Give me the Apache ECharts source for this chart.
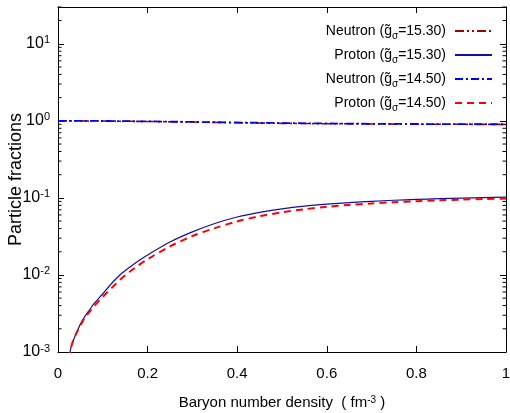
<!DOCTYPE html>
<html>
<head>
<meta charset="utf-8">
<script src="https://cdn.jsdelivr.net/npm/echarts@6/dist/echarts.min.js"></script>
<style>
html,body{margin:0;padding:0;background:#fff;}
#chart{width:510px;height:413px;}
</style>
</head>
<body>
<div id="chart"></div>
<script>
// ---- data ----
var densityN = [0.0, 0.1, 0.2, 0.3, 0.4, 0.5, 0.6, 0.7, 0.8, 0.9, 1.0];
var neutron1530 = [1.0, 0.994, 0.981, 0.964, 0.943, 0.928, 0.917, 0.910, 0.905, 0.901, 0.898];
var neutron1450 = [1.0, 0.995, 0.984, 0.968, 0.951, 0.935, 0.924, 0.915, 0.909, 0.905, 0.902];

var densityP = [0.02, 0.025, 0.03, 0.04, 0.05, 0.06, 0.07, 0.08, 0.10, 0.12, 0.14, 0.16, 0.18, 0.20,
                0.25, 0.30, 0.35, 0.40, 0.45, 0.50, 0.55, 0.60, 0.65, 0.70, 0.75, 0.80, 0.85, 0.90, 0.95, 1.00];
var proton1530 = [0.0004, 0.00085, 0.0012, 0.0017, 0.0023, 0.0029, 0.0035, 0.0042, 0.0057, 0.0078, 0.0102, 0.0126, 0.0153, 0.0182,
                  0.0268, 0.0362, 0.0465, 0.0565, 0.0650, 0.0722, 0.0782, 0.0830, 0.0870, 0.0903, 0.0932, 0.0956, 0.0976, 0.0993, 0.1008, 0.1020];
var proton1450 = [0.0004, 0.00085, 0.0012, 0.0017, 0.0022, 0.0028, 0.0033, 0.0039, 0.0052, 0.0068, 0.0088, 0.0110, 0.0134, 0.0160,
                  0.0235, 0.0320, 0.0405, 0.0495, 0.0578, 0.0650, 0.0712, 0.0765, 0.0810, 0.0848, 0.0880, 0.0907, 0.0930, 0.0950, 0.0966, 0.0980];

var seriesNames = ['Neutron (g\u0303\u03c3=15.30)', 'Proton (g\u0303\u03c3=15.30)', 'Neutron (g\u0303\u03c3=14.50)', 'Proton (g\u0303\u03c3=14.50)'];
var legendRich = [
  '{t|Neutron (g\u0303}{s|\u03c3}{e|=15.30)}',
  '{t|Proton (g\u0303}{s|\u03c3}{e|=15.30)}',
  '{t|Neutron (g\u0303}{s|\u03c3}{e|=14.50)}',
  '{t|Proton (g\u0303}{s|\u03c3}{e|=14.50)}'
];
var minorMultipliers = [2, 3, 4, 5, 6, 7, 8, 9];
var decades = [0.001, 0.01, 0.1, 1, 10];

function zip(xs, ys) { return xs.map(function (x, i) { return [x, ys[i]]; }); }

var minorVals = [];
decades.forEach(function (d) {
  minorMultipliers.forEach(function (m) { var v = m * d; if (v <= 30) minorVals.push([0, v]); });
});

var FONT = '"Liberation Sans", Arial, Helvetica, sans-serif';

var chart = echarts.init(document.getElementById('chart'));
var option = {
  backgroundColor: '#fff',
  animation: false,
  grid: { left: 58, right: 4, top: 7, bottom: 61, outerBoundsMode: 'none', containLabel: false },
  legend: {
    orient: 'vertical',
    right: 12,
    top: 16,
    align: 'right',
    itemWidth: 37,
    itemHeight: 20,
    itemGap: 4,
    data: seriesNames,
    itemStyle: { opacity: 0 },
    formatter: function (name) { return legendRich[seriesNames.indexOf(name)]; },
    textStyle: {
      color: '#000',
      lineHeight: 20,
      rich: {
        t: { fontFamily: FONT, fontSize: 14, lineHeight: 20, color: '#000' },
        e: { fontFamily: FONT, fontSize: 14, lineHeight: 20, color: '#000', padding: [0, 4, 0, 0] },
        s: { fontFamily: FONT, fontSize: 10, lineHeight: 20, color: '#000', verticalAlign: 'bottom', padding: [6, 0, 0, 0] }
      }
    }
  },
  xAxis: [{
    type: 'value', min: 0, max: 1, interval: 0.2,
    position: 'bottom',
    axisLine: { show: true, onZero: false, lineStyle: { color: '#000', width: 1 } },
    axisTick: { show: true, inside: true, length: 6, lineStyle: { color: '#000' } },
    axisLabel: { show: true, color: '#000', fontFamily: FONT, fontSize: 15, margin: 14,
      formatter: function (v) { return String(Math.round(v * 10) / 10); } },
    splitLine: { show: false },
    name: 'Baryon number density  ( fm{sup|-3} )',
    nameLocation: 'middle',
    nameGap: 43,
    nameMoveOverlap: false,
    nameTextStyle: { color: '#000', fontFamily: FONT, fontSize: 15,
      rich: { sup: { fontFamily: FONT, fontSize: 10, verticalAlign: 'top', color: '#000' } } }
  }, {
    type: 'value', min: 0, max: 1, interval: 0.2,
    position: 'top',
    axisLine: { show: true, onZero: false, lineStyle: { color: '#000', width: 1 } },
    axisTick: { show: true, inside: true, length: 6, lineStyle: { color: '#000' } },
    axisLabel: { show: false },
    splitLine: { show: false }
  }],
  yAxis: [{
    type: 'log', logBase: 10, min: 0.001, max: 30,
    position: 'left',
    axisLine: { show: true, onZero: false, lineStyle: { color: '#000', width: 1 } },
    axisTick: { show: true, inside: true, length: 6, lineStyle: { color: '#000' } },
    axisLabel: {
      show: true, margin: 8, showMaxLabel: false,
      formatter: function (v) {
        var e = Math.round(Math.log10(v));
        if (Math.abs(Math.pow(10, e) - v) / v > 1e-6) return '';
        return '{b|10}{s|' + e + '}';
      },
      rich: {
        b: { fontFamily: FONT, fontSize: 16, lineHeight: 18, padding: [2, 0, 2, 0], color: '#000' },
        s: { fontFamily: FONT, fontSize: 11, lineHeight: 12, verticalAlign: 'top', color: '#000' }
      }
    },
    splitLine: { show: false },
    name: 'Particle fractions',
    nameLocation: 'middle',
    nameGap: 33,
    nameRotate: 90,
    nameMoveOverlap: false,
    nameTextStyle: { color: '#000', fontFamily: FONT, fontSize: 18 }
  }, {
    type: 'log', logBase: 10, min: 0.001, max: 30,
    position: 'right',
    axisLine: { show: true, onZero: false, lineStyle: { color: '#000', width: 1 } },
    axisTick: { show: true, inside: true, length: 6, lineStyle: { color: '#000' } },
    axisLabel: { show: false },
    splitLine: { show: false }
  }],
  series: [
    {
      name: seriesNames[0], type: 'line', xAxisIndex: 0, yAxisIndex: 0,
      data: zip(densityN, neutron1530), symbol: 'none',
      lineStyle: { color: '#a00000', width: 1.6, type: [9, 3, 2, 3, 2, 3] },
      itemStyle: { color: '#a00000' }
    },
    {
      name: seriesNames[1], type: 'line', xAxisIndex: 0, yAxisIndex: 0,
      data: zip(densityP, proton1530), symbol: 'none', smooth: 0.3,
      lineStyle: { color: '#1010a8', width: 1.2, type: 'solid' },
      itemStyle: { color: '#1010a8' }
    },
    {
      name: seriesNames[2], type: 'line', xAxisIndex: 0, yAxisIndex: 0,
      data: zip(densityN, neutron1450), symbol: 'none',
      lineStyle: { color: '#0000ff', width: 1.8, type: [8, 3, 2, 3] },
      itemStyle: { color: '#0000ff' }
    },
    {
      name: seriesNames[3], type: 'line', xAxisIndex: 0, yAxisIndex: 0,
      data: zip(densityP, proton1450), symbol: 'none', smooth: 0.3,
      lineStyle: { color: '#ff0000', width: 2, type: [7, 5] },
      itemStyle: { color: '#ff0000' }
    },
    {
      name: 'minorTicks', type: 'custom', xAxisIndex: 0, yAxisIndex: 0,
      data: minorVals, silent: true, clip: false,
      encode: { x: 0, y: 1 },
      renderItem: function (params, api) {
        var v = api.value(1);
        var pl = api.coord([0, v]);
        var pr = api.coord([1, v]);
        return {
          type: 'group',
          children: [
            { type: 'line', shape: { x1: pl[0], y1: pl[1], x2: pl[0] + 3.5, y2: pl[1] }, style: { stroke: '#000', lineWidth: 1 } },
            { type: 'line', shape: { x1: pr[0] - 3.5, y1: pr[1], x2: pr[0], y2: pr[1] }, style: { stroke: '#000', lineWidth: 1 } }
          ]
        };
      }
    }
  ]
};
chart.setOption(option);
</script>
</body>
</html>
